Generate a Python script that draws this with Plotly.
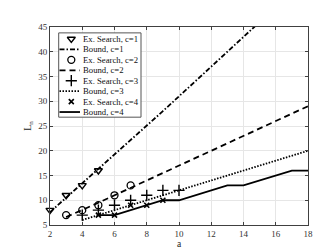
import plotly.graph_objects as go

a_s1 = [2, 3, 4, 5]
ex_c1 = [8, 11, 13, 16]
a_b1 = list(range(2, 19))
bound_c1 = [7.6, 10.5, 13.4, 16.3, 19.2, 22.1, 25.0, 28.0, 31.0, 34.0, 37.0, 40.0, 43.0, 46.0, 49.0, 52.0, 55.0]

a_s2 = [3, 4, 5, 6, 7]
ex_c2 = [7, 8, 9, 11, 13]
a_b2 = list(range(3, 19))
bound_c2 = [6.6, 8, 9.5, 11, 12.5, 14, 15.5, 17, 18.5, 20, 21.5, 23, 24.5, 26, 27.5, 29]

a_s3 = [4, 5, 6, 7, 8, 9, 10]
ex_c3 = [7, 8, 9, 10, 11, 12, 12]
a_b3 = list(range(4, 19))
bound_c3 = [6, 7, 8, 9, 10, 11, 12, 13, 14, 15, 16, 17, 18, 19, 20]

a_s4 = [5, 6, 7, 8, 9]
ex_c4 = [7, 7, 9, 9, 10]
a_b4 = list(range(5, 19))
bound_c4 = [7, 7, 8, 9, 10, 10, 11, 12, 13, 13, 14, 15, 16, 16]

x_ticks = [2, 4, 6, 8, 10, 12, 14, 16, 18]
y_ticks = [5, 10, 15, 20, 25, 30, 35, 40, 45]

names = ["Ex. Search, c=1", "Bound, c=1", "Ex. Search, c=2", "Bound, c=2",
         "Ex. Search, c=3", "Bound, c=3", "Ex. Search, c=4", "Bound, c=4"]

FONT = "Liberation Serif"
lw = 1.8
marker_styles = [
    dict(symbol="triangle-down-open", size=7, color="black", line=dict(color="black", width=1.4)),
    dict(symbol="circle-open", size=7, color="black", line=dict(color="black", width=1.3)),
    dict(symbol="cross-thin-open", size=8, color="black", line=dict(color="black", width=1.4)),
    dict(symbol="x-thin-open", size=5, color="black", line=dict(color="black", width=1.6)),
]
line_styles = [
    dict(color="black", width=lw, dash="5px,2px,1.5px,2px"),
    dict(color="black", width=lw, dash="6px,4px"),
    dict(color="black", width=lw, dash="1.5px,1.5px"),
    dict(color="black", width=lw),
]

series = [(a_s1, ex_c1, a_b1, bound_c1), (a_s2, ex_c2, a_b2, bound_c2),
          (a_s3, ex_c3, a_b3, bound_c3), (a_s4, ex_c4, a_b4, bound_c4)]

X_RANGE = [2, 18]
Y_RANGE = [5, 45]

fig = go.Figure()
for i, (xs, ys, xb, yb) in enumerate(series):
    fig.add_trace(go.Scatter(x=xs, y=ys, mode="markers", name=names[2 * i],
                             marker=marker_styles[i], cliponaxis=False, showlegend=False))
    fig.add_trace(go.Scatter(x=xb, y=yb, mode="lines", name=names[2 * i + 1],
                             line=line_styles[i], showlegend=False))

# custom compact legend drawn in pixel-like overlay axes
L, R, T, B = 42, 32, 19, 28
W, H = 332, 249
PW, PH = W - L - R, H - T - B


def px_to_x(px):
    return X_RANGE[0] + (px - L) / PW * (X_RANGE[1] - X_RANGE[0])


def px_to_y(py):
    return Y_RANGE[1] - (py - T) / PH * (Y_RANGE[1] - Y_RANGE[0])


box_px = (50.7, 133, 25, 111)
row0, drow = 31.2, 10.65
mx, lx0, lx1, tx = 63.3, 51.5, 72, 73

for i in range(4):
    ym = row0 + drow * (2 * i)
    yl = row0 + drow * (2 * i + 1)
    fig.add_trace(go.Scatter(x=[mx], y=[ym], mode="markers", marker=marker_styles[i],
                             xaxis="x2", yaxis="y2", showlegend=False, hoverinfo="skip"))
    fig.add_trace(go.Scatter(x=[lx0, lx1], y=[yl, yl], mode="lines", line=line_styles[i],
                             xaxis="x2", yaxis="y2", showlegend=False, hoverinfo="skip"))

annotations = []
for k, nm in enumerate(names):
    annotations.append(dict(x=tx, y=row0 + drow * k, xref="x2", yref="y2", text=nm,
                            showarrow=False, xanchor="left", yanchor="middle",
                            font=dict(family=FONT, size=8.7, color="#111")))

axis_common = dict(showgrid=True, gridcolor="#e6e6e6", gridwidth=1,
                   showline=True, linecolor="#404040", linewidth=1, mirror="ticks",
                   ticks="inside", ticklen=3, tickcolor="#404040",
                   zeroline=False, tickfont=dict(family=FONT, size=9, color="#333"))

fig.update_layout(
    xaxis=dict(range=X_RANGE, tickvals=x_ticks, title=dict(text="a", standoff=0,
               font=dict(family=FONT, size=9.5, color="#222")), **axis_common),
    yaxis=dict(range=Y_RANGE, tickvals=y_ticks, title=dict(text="L<sub>n</sub>", standoff=4,
               font=dict(family=FONT, size=10, color="#222")), **axis_common),
    xaxis2=dict(overlaying="x", range=[L, W - R], visible=False, fixedrange=True),
    yaxis2=dict(overlaying="y", range=[H - B, T], visible=False, fixedrange=True),
    shapes=[dict(type="rect", xref="x", yref="y", layer="between",
                 x0=px_to_x(box_px[0]), x1=px_to_x(box_px[1]),
                 y0=px_to_y(box_px[2]), y1=px_to_y(box_px[3]),
                 fillcolor="white", line=dict(color="#555", width=1))],
    annotations=annotations,
    width=W, height=H,
    margin=dict(l=L, r=R, t=T, b=B),
    paper_bgcolor="white", plot_bgcolor="white",
    font=dict(family=FONT, size=9, color="#222"),
    showlegend=False,
)

fig.write_html("out.html")
